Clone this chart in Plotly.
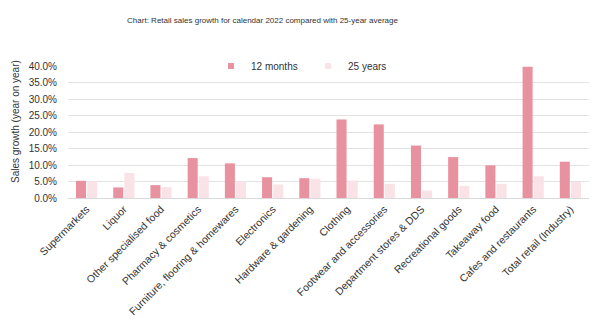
import plotly.graph_objects as go

categories = [
    "Supermarkets", "Liquor", "Other specialised food", "Pharmacy & cosmetics",
    "Furniture, flooring & homewares", "Electronics", "Hardware & gardening",
    "Clothing", "Footwear and accessories", "Department stores & DDS",
    "Recreational goods", "Takeaway food", "Cafes and restaurants",
    "Total retail (Industry)",
]
growth_12_months = [0.052, 0.032, 0.039, 0.121, 0.105, 0.063, 0.060,
                    0.238, 0.223, 0.159, 0.124, 0.099, 0.398, 0.110]
growth_25_years = [0.050, 0.076, 0.033, 0.066, 0.051, 0.041, 0.058,
                   0.053, 0.043, 0.023, 0.037, 0.043, 0.066, 0.049]
y_ticks = [0.0, 0.05, 0.10, 0.15, 0.20, 0.25, 0.30, 0.35, 0.40]

FONT = "Liberation Sans, Arial, sans-serif"
TEXT = "#333333"
COLOR_12M = "#E8919F"
COLOR_25Y = "#FAE3E7"

fig = go.Figure()
fig.add_trace(go.Bar(name="12 months", x=categories, y=growth_12_months,
                     marker=dict(color=COLOR_12M, line=dict(width=0)),
                     showlegend=False))
fig.add_trace(go.Bar(name="25 years", x=categories, y=growth_25_years,
                     marker=dict(color=COLOR_25Y, line=dict(width=0)),
                     showlegend=False))

# small square legend keys
for name, color in (("12 months", COLOR_12M), ("25 years", COLOR_25Y)):
    fig.add_trace(go.Scatter(name=name, x=[None], y=[None], mode="markers",
                             marker=dict(symbol="square", size=6, color=color),
                             showlegend=True, hoverinfo="skip"))

fig.update_layout(
    width=600, height=323,
    margin=dict(l=68, r=11, t=66, b=125),
    paper_bgcolor="white", plot_bgcolor="white",
    font=dict(family=FONT, size=10, color=TEXT),
    barmode="group", bargap=0.4, bargroupgap=0.1,
    title=dict(text="Chart: Retail sales growth for calendar 2022 compared with 25-year average",
               font=dict(size=8, color=TEXT), x=262.5 / 600, xanchor="center",
               xref="container", y=1 - 20 / 323, yanchor="middle", yref="container"),
    legend=dict(orientation="h", x=(211 - 68) / 521, xanchor="left",
                y=1.0, yanchor="middle", bgcolor="white",
                font=dict(size=10, color=TEXT), traceorder="normal",
                itemwidth=30, entrywidth=52, entrywidthmode="pixels"),
    showlegend=True,
    annotations=[dict(text="Sales growth (year on year)", textangle=-90,
                      xref="paper", yref="paper",
                      x=(15 - 68) / 521, y=(198 - 122) / 132,
                      xanchor="center", yanchor="middle", showarrow=False,
                      font=dict(size=10, color=TEXT))],
)
fig.update_xaxes(tickangle=-45, automargin=False, showline=True,
                 linecolor="#d9d9d9", linewidth=1, ticks="",
                 tickfont=dict(size=10.5, color=TEXT))
fig.update_yaxes(range=[0, 0.40], tickvals=y_ticks, tickformat=".1%",
                 showgrid=True, gridcolor="#e3e3e3", gridwidth=1,
                 zeroline=False, automargin=False, ticklabelstandoff=10,
                 tickfont=dict(size=10, color=TEXT))

fig.write_html("out.html")
